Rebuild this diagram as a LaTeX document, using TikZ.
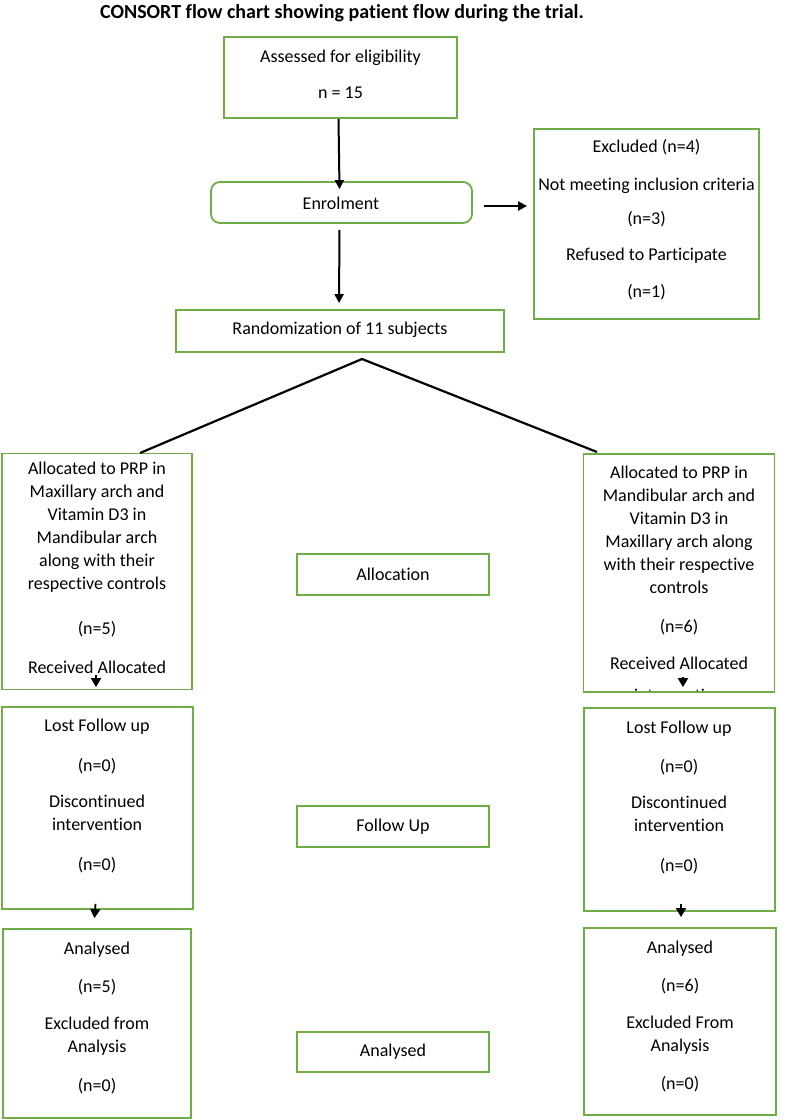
\documentclass[tikz,border=0pt]{standalone}
\usepackage{fontspec}
\setmainfont{Carlito}[Ligatures=NoCommon]
\usetikzlibrary{arrows.meta}
\definecolor{boxgreen}{HTML}{70AD47}
\newcommand{\flowfont}{\fontsize{18}{23}\selectfont}
\tikzset{
	flowbox/.style={draw=boxgreen, line width=1.8pt, inner sep=0pt},
	roundbox/.style={flowbox, rounded corners=9pt},
	flowtext/.style={align=center, inner sep=0pt, font=\flowfont},
	flowarrow/.style={line width=2pt, -{Triangle[length=9pt,width=9pt]}},
	smallarrow/.style={line width=1.8pt, -{Triangle[length=9pt,width=10pt]}},
	splitline/.style={line width=2.2pt},
}

\begin{document}
\begin{tikzpicture}[x=1pt,y=-1pt]
		%%%%% START %%%%%
		
		\fill[white] (0,0) rectangle (787,1120);
		\useasboundingbox (0,0) rectangle (787,1120);
		
		\node[flowtext, font=\fontsize{20}{24}\selectfont] (title) at (342,13) {\textbf{CONSORT flow chart showing patient flow during the trial.}};
		
		% clipped line under the right allocation text
		\begin{scope}
			\clip (584,454) rectangle (774,691);
			\node[flowtext] (allocRcut) at (679,695) {intervention};
		\end{scope}
		
		% boxes
		\node[flowbox, minimum width=233, minimum height=81] (assess) at (340.5,77.5) {};
		\node[roundbox, minimum width=261, minimum height=41] (enrol) at (341.5,202.5) {};
		\node[flowbox, minimum width=225, minimum height=190] (excl) at (646.5,224) {};
		\node[flowbox, minimum width=328, minimum height=42] (random) at (340,331) {};
		
		\node[flowbox, minimum width=190, minimum height=236] (allocL) at (97,571.5) {};
		\node[flowbox, minimum width=191, minimum height=238] (allocR) at (679,573) {};
		\node[flowbox, minimum width=192, minimum height=41] (allocmid) at (393,574.5) {};
		
		\node[flowbox, minimum width=191, minimum height=202] (lostL) at (97.5,808) {};
		\node[flowbox, minimum width=191, minimum height=203] (lostR) at (679.5,809.5) {};
		\node[flowbox, minimum width=192, minimum height=41] (followmid) at (393,826.5) {};
		
		\node[flowbox, minimum width=188, minimum height=189] (anaL) at (97,1023.5) {};
		\node[flowbox, minimum width=192, minimum height=187] (anaR) at (680,1021.5) {};
		\node[flowbox, minimum width=192, minimum height=40] (anamid) at (393,1052) {};
		
		% texts
		\node[flowtext] (assesstxt) at (340.5,74) {Assessed for eligibility\\[13pt]n = 15};
		\node[flowtext] (enroltxt) at (341,203) {Enrolment};
		\node[flowtext] (excltxt) at (646.5,219.5) {Excluded (n=4)\\[15pt]Not meeting inclusion criteria\\[11pt](n=3)\\[13pt]Refused to Participate\\[14pt](n=1)};
		\node[flowtext] (randomtxt) at (340,330) {Randomization of 11 subjects};
		
		\node[flowtext] (allocLtxt) at (97,567.5) {Allocated to PRP in\\Maxillary arch and\\Vitamin D3 in\\Mandibular arch\\along with their\\respective controls\\[22pt](n=5)\\[16pt]Received Allocated};
		\node[flowtext] (allocRtxt) at (679,568) {Allocated to PRP in\\Mandibular arch and\\Vitamin D3 in\\Maxillary arch along\\with their respective\\controls\\[16pt](n=6)\\[14pt]Received Allocated};
		\node[flowtext] (allocmidtxt) at (393,574) {Allocation};
		
		\node[flowtext] (lostLtxt) at (97,796) {Lost Follow up\\[17pt](n=0)\\[13pt]Discontinued\\intervention\\[17pt](n=0)};
		\node[flowtext] (lostRtxt) at (679,797.5) {Lost Follow up\\[16pt](n=0)\\[13pt]Discontinued\\intervention\\[17pt](n=0)};
		\node[flowtext] (followmidtxt) at (393,827) {Follow Up};
		
		\node[flowtext] (anaLtxt) at (97,1017.5) {Analysed\\[15pt](n=5)\\[14pt]Excluded from\\Analysis\\[16pt](n=0)};
		\node[flowtext] (anaRtxt) at (680,1016) {Analysed\\[15pt](n=6)\\[14pt]Excluded From\\Analysis\\[15pt](n=0)};
		\node[flowtext] (anamidtxt) at (393,1052) {Analysed};
		
		% arrows
		\draw[flowarrow] ([xshift=-2pt]assess.south) -- ([xshift=-2pt,yshift=-8pt]enrol.north);
		\draw[flowarrow, shorten <=6pt, shorten >=6pt] ([xshift=-2pt]enrol.south) -- ([xshift=-1pt]random.north);
		\draw[flowarrow, shorten <=11pt, shorten >=6pt] ([yshift=-3.5pt]enrol.east) -- ([yshift=18pt]excl.west);
		
		\coordinate (split) at (362,359);
		\coordinate (splitL) at (140,453);
		\coordinate (splitR) at (597,452);
		\draw[splitline] (splitL) -- (split) -- (splitR);
		
		\draw[smallarrow] ([xshift=-1pt,yshift=15pt]allocL.south) -- ([xshift=-1.5pt,yshift=19pt]lostL.north);
		\draw[smallarrow] ([xshift=4pt,yshift=16pt]allocR.south) -- ([xshift=3.5pt,yshift=20pt]lostR.north);
		\draw[smallarrow] ([xshift=-2pt,yshift=6pt]lostL.south) -- ([xshift=-2.5pt,yshift=10pt]anaL.north);
		\draw[smallarrow] ([xshift=1.5pt,yshift=8pt]lostR.south) -- ([xshift=1pt,yshift=10pt]anaR.north);
		
		%%%%% END %%%%%
\end{tikzpicture}
\end{document}
